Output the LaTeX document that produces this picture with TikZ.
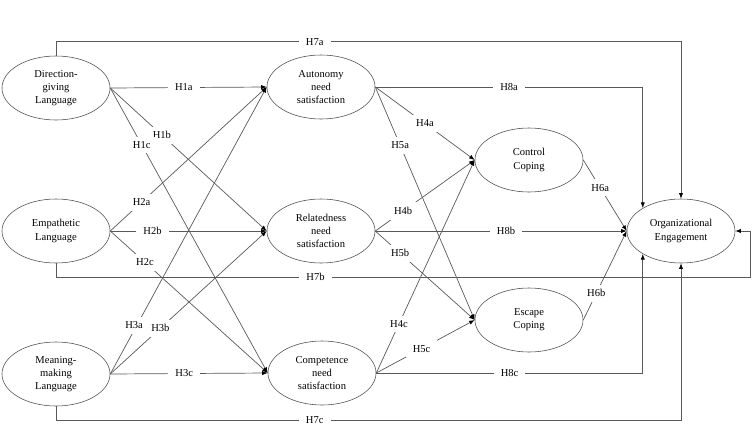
\documentclass[tikz,border=0pt]{standalone}
\usepackage{fontspec}
\setmainfont{Liberation Serif}
\usetikzlibrary{positioning,shapes.geometric,arrows.meta}
\tikzset{
  ell/.style={draw=black!70, ellipse, minimum width=2.7cm, minimum height=1.6cm,
    inner sep=0pt, align=center, font=\fontsize{7.5}{9.3}\selectfont},
  conn/.style={draw=black!65, line width=0.5pt, -{Latex[length=4pt,width=3pt,color=black]}},
  lbl/.style={fill=white, inner xsep=5pt, inner ysep=3.5pt, font=\fontsize{7.5}{9}\selectfont},
}
\begin{document}
\begin{tikzpicture}[x=0.025cm,y=-0.025cm]
\useasboundingbox (0,0) rectangle (752,429);
% Nodes
\node[ell] (dir) at (56,88) {Direction-\\giving\\Language};
\node[ell] (emp) at (56,231) {Empathetic\\Language};
\node[ell] (mea) at (56,374) {Meaning-\\making\\Language};
\node[ell] (aut) at (321,87) {Autonomy\\need\\satisfaction};
\node[ell] (rel) at (321,231) {Relatedness\\need\\satisfaction};
\node[ell] (com) at (322,373) {Competence\\need\\satisfaction};
\node[ell] (ctl) at (529,160) {Control\\Coping};
\node[ell] (esc) at (529,320) {Escape\\Coping};
\node[ell] (eng) at (681,231) {Organizational\\Engagement};
\coordinate (c7b) at (750,277);
% Lines
\draw[conn] (dir.east) -- node[lbl,pos=0.47]{H1a} (aut.west);
\draw[conn] (dir.east) -- node[lbl,pos=0.33]{H1b} (rel.west);
\draw[conn] (dir.east) -- node[lbl,pos=0.2]{H1c} (com.west);
\draw[conn] (emp.east) -- node[lbl,pos=0.2]{H2a} (aut.west);
\draw[conn] (emp.east) -- node[lbl,pos=0.27]{H2b} (rel.west);
\draw[conn] (emp.east) -- node[lbl,pos=0.22]{H2c} (com.west);
\draw[conn] (mea.east) -- node[lbl,pos=0.17,xshift=-2pt]{H3a} (aut.west);
\draw[conn] (mea.east) -- node[lbl,pos=0.32]{H3b} (rel.west);
\draw[conn] (mea.east) -- node[lbl,pos=0.47]{H3c} (com.west);
\draw[conn] (aut.east) -- node[lbl,pos=0.5]{H4a} (ctl.west);
\draw[conn] (rel.east) -- node[lbl,pos=0.28]{H4b} (ctl.west);
\draw[conn] (com.east) -- node[lbl,pos=0.23]{H4c} (ctl.west);
\draw[conn] (aut.east) -- node[lbl,pos=0.25]{H5a} (esc.west);
\draw[conn] (rel.east) -- node[lbl,pos=0.25]{H5b} (esc.west);
\draw[conn] (com.east) -- node[lbl,pos=0.46]{H5c} (esc.west);
\draw[conn] (ctl.east) -- node[lbl,pos=0.39]{H6a} (eng.west);
\draw[conn] (esc.east) -- node[lbl,pos=0.3]{H6b} (eng.west);
% Direct paths
\draw[conn] (dir.north) -- ++(0,-14) -| node[lbl,pos=0.207]{H7a} (eng.north);
\draw[conn] (emp.south) |- node[lbl,pos=0.687]{H7b} (c7b) |- (eng.east);
\draw[conn] (mea.south) -- ++(0,14) -| node[lbl,pos=0.207]{H7c} (eng.south);
\draw[conn] (aut.east) -| node[lbl,pos=0.25]{H8a} (eng.149);
\draw[conn] (rel.east) -- node[lbl,pos=0.52]{H8b} (eng.west);
\draw[conn] (com.east) -| node[lbl,pos=0.25]{H8c} (eng.211);
\end{tikzpicture}
\end{document}
